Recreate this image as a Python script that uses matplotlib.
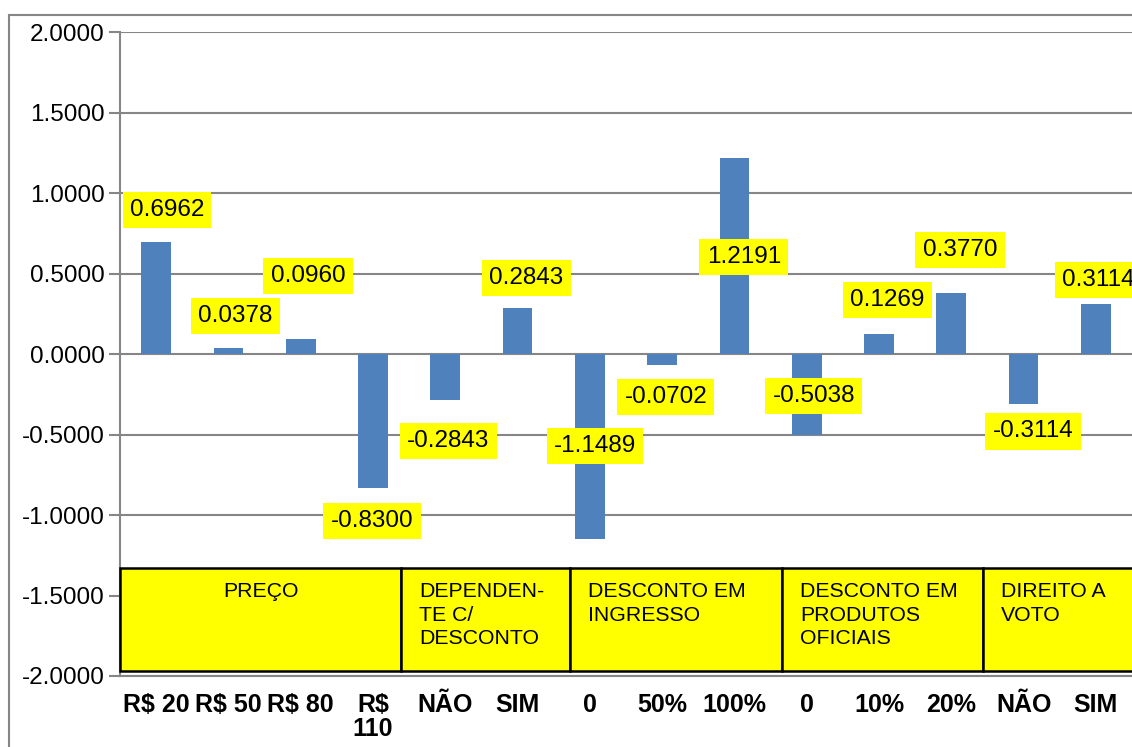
import matplotlib.pyplot as plt
from matplotlib.patches import Rectangle

# bar categories and values
categories = ["R$ 20", "R$ 50", "R$ 80", "R$\n110", "NÃO", "SIM",
              "0", "50%", "100%", "0", "10%", "20%", "NÃO", "SIM"]
values = [0.6962, 0.0378, 0.0960, -0.8300, -0.2843, 0.2843,
          -1.1489, -0.0702, 1.2191, -0.5038, 0.1269, 0.3770, -0.3114, 0.3114]

# group header table (labels, and how many bars each spans)
groups = ["PREÇO", "DEPENDEN-\nTE C/\nDESCONTO", "DESCONTO EM\nINGRESSO",
          "DESCONTO EM\nPRODUTOS\nOFICIAIS", "DIREITO A\nVOTO"]
group_edges = [-0.5, 3.39, 5.72, 8.66, 11.44, 13.6]

# where the yellow value labels sit (x offset from bar, y in data units)
label_dx = [0.15, 0.10, 0.10, -0.015, 0.04, 0.12, 0.07, 0.05, 0.13, 0.10, 0.12, 0.12, 0.13, 0.04]
label_y = [0.894, 0.236, 0.484, -1.037, -0.540, 0.472, -0.571, -0.267, 0.602, -0.261,
           0.335, 0.646, -0.480, 0.46]

plt.rcParams['font.family'] = ['Liberation Sans', 'DejaVu Sans']

fig = plt.figure(figsize=(11.32, 7.47), dpi=100)
ax = fig.add_axes([120 / 1132, 1 - 676 / 747, 1 - 120 / 1132, (676 - 32) / 747])

x = list(range(len(values)))
ax.bar(x, values, width=0.41, color="#4F81BD", zorder=3)

ax.set_xlim(-0.5, len(values) - 0.5)
ax.set_ylim(-2, 2)
yt = [2, 1.5, 1, 0.5, 0, -0.5, -1, -1.5, -2]
ax.set_yticks(yt)
ax.set_yticklabels([f"{v:.4f}" for v in yt], fontsize=17.5)
ax.yaxis.grid(True, color="#868686", linewidth=1.5, zorder=0)
ax.tick_params(axis='y', length=8, width=1.5, color="#868686", pad=3)

ax.set_xticks(x)
ax.set_xticklabels(categories, fontsize=18, fontweight='bold', linespacing=1.0)
ax.tick_params(axis='x', length=0, pad=12)

for s in ['top', 'right']:
    ax.spines[s].set_visible(False)
for s in ['left', 'bottom']:
    ax.spines[s].set_color("#868686")
    ax.spines[s].set_linewidth(1.5)

# value labels
for i, v in enumerate(values):
    ax.text(i + label_dx[i], label_y[i], f"{v:.4f}", fontsize=17.5, ha='center', va='center',
            zorder=5, bbox=dict(boxstyle='square,pad=0.3', fc='#FFFF00', ec='none'))

# group header table
top, bottom = -1.329, -1.969
for j, g in enumerate(groups):
    x0, x1 = group_edges[j], group_edges[j + 1]
    ax.add_patch(Rectangle((x0, bottom), x1 - x0, top - bottom, facecolor='#FFFF00',
                           edgecolor='black', linewidth=1.8, zorder=4, clip_on=False))
    if j == 0:
        ax.text((x0 + x1) / 2, top - 0.09, g, fontsize=15.3, ha='center', va='top', zorder=5)
    else:
        ax.text(x0 + 0.25, top - 0.09, g, fontsize=15.3, ha='left', va='top',
                linespacing=1.3, zorder=5)

# outer chart border
fig.add_artist(Rectangle((9 / 1132, -0.1), 1.2, 1 - 15 / 747 + 0.1, transform=fig.transFigure,
                         fill=False, edgecolor="#868686", linewidth=1.5))

fig.savefig("out.png", dpi=100)
